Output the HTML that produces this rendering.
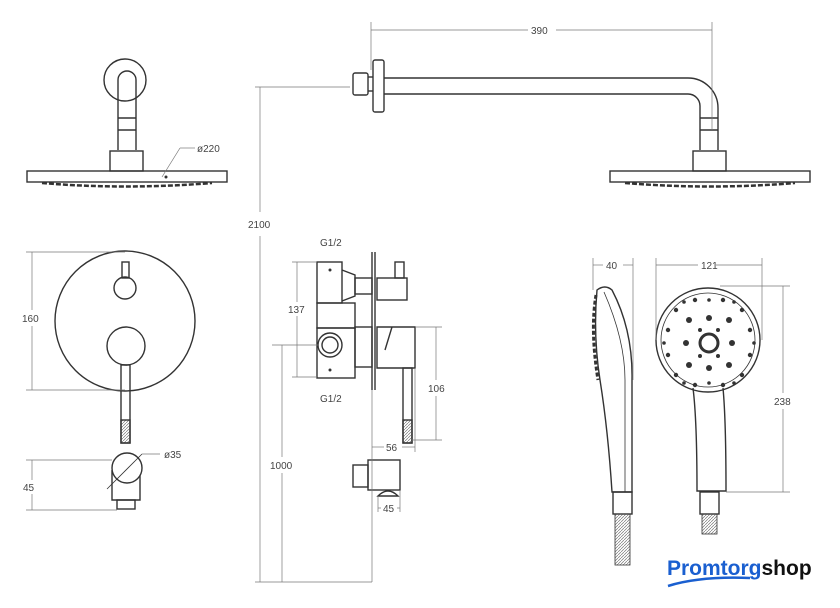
<!DOCTYPE html>
<html><head><style>
html,body{margin:0;padding:0;background:#fff;}
svg{display:block;}
text{font-family:"Liberation Sans",sans-serif;font-size:10px;fill:#444;}
</style></head><body>
<svg width="840" height="608" viewBox="0 0 840 608" xmlns="http://www.w3.org/2000/svg">
<defs>
<pattern id="h" width="3" height="3" patternUnits="userSpaceOnUse"><path d="M0 3L3 0" stroke="#777" stroke-width="0.7"/></pattern>
</defs>
<g fill="none" stroke="#333" stroke-width="1.4">
<circle cx="125" cy="80" r="21"/>
<path d="M118 150 V80 a9 9 0 0 1 18 0 V150"/>
<line x1="118" y1="118" x2="136" y2="118"/><line x1="118" y1="130" x2="136" y2="130"/>
<rect x="110" y="151" width="33" height="20"/>
<rect x="27" y="171" width="200" height="11"/>
<path d="M42 183 Q125 190 212 183" stroke-dasharray="5 2" stroke-width="2.5"/>
<rect x="373" y="60" width="11" height="52" rx="2"/>
<rect x="353" y="73" width="15" height="22" rx="2"/>
<line x1="368" y1="77" x2="373" y2="77"/><line x1="368" y1="91" x2="373" y2="91"/>
<path d="M384 78 H688 A30 30 0 0 1 718 108 V150"/>
<path d="M384 94 H688 A12 12 0 0 1 700 106 V150"/>
<line x1="700" y1="118" x2="718" y2="118"/><line x1="700" y1="130" x2="718" y2="130"/>
<rect x="693" y="151" width="33" height="20"/>
<rect x="610" y="171" width="200" height="11"/>
<path d="M625 183 Q710 190 795 183" stroke-dasharray="5 2" stroke-width="2.5"/>
<circle cx="125" cy="321" r="70"/>
<rect x="122" y="262" width="7" height="16"/>
<circle cx="125" cy="288" r="11"/>
<circle cx="126" cy="346" r="19"/>
<rect x="121" y="365" width="9" height="78"/>
<rect x="121" y="420" width="9" height="23" fill="url(#h)"/>
<path d="M112 470 V500 H140 V470"/>
<circle cx="127" cy="468" r="15" fill="#fff"/>
<rect x="117" y="500" width="18" height="9"/>
<line x1="107" y1="489" x2="142" y2="454" stroke-width="0.8"/>
<rect x="317" y="262" width="25" height="41"/>
<path d="M342 270 L355 275 V296 L342 301"/>
<rect x="355" y="278" width="17" height="16"/>
<line x1="372" y1="252" x2="372" y2="390"/><line x1="375" y1="252" x2="375" y2="390"/>
<rect x="377" y="278" width="30" height="22"/>
<rect x="395" y="262" width="9" height="16"/>
<rect x="317" y="303" width="38" height="25"/>
<rect x="317" y="328" width="38" height="50"/>
<circle cx="330" cy="345" r="12"/><circle cx="330" cy="345" r="8"/>
<rect x="355" y="327" width="17" height="40"/>
<path d="M377 327 H415 V368 H377 Z M392 327 L385 350"/>
<rect x="403" y="368" width="9" height="75"/>
<rect x="403" y="420" width="9" height="23" fill="url(#h)"/>
<rect x="353" y="465" width="15" height="22"/>
<rect x="368" y="460" width="32" height="30"/>
<path d="M378 496 Q388 486 398 496 Z"/>
<path d="M597 290 Q605 284 612 290 Q633 330 632 380 V492 H612 Q608 430 600 380 Q593 335 597 290 Z"/>
<path d="M604 292 Q625 340 625 380 V492" stroke-width="0.8"/>
<path d="M596 295 Q590 330 598 380" stroke-width="3" stroke-dasharray="4 2"/>
<rect x="613" y="492" width="19" height="22"/>
<rect x="615" y="514" width="15" height="51" fill="url(#h)" stroke-width="0.8"/>
<circle cx="708" cy="340" r="52"/>
<circle cx="708" cy="340" r="47" stroke-width="0.8"/>
<path d="M693 388 Q697 420 697 491 H726 Q726 420 723 388"/>
<rect x="700" y="492" width="19" height="22"/>
<rect x="702" y="514" width="15" height="20" fill="url(#h)" stroke-width="0.8"/>
<circle cx="709" cy="343" r="9" stroke-width="3"/>
</g>
<g fill="#333">
<circle cx="689" cy="320" r="3"/><circle cx="729" cy="320" r="3"/><circle cx="686" cy="343" r="3"/><circle cx="732" cy="343" r="3"/><circle cx="689" cy="365" r="3"/><circle cx="729" cy="365" r="3"/><circle cx="709" cy="318" r="3"/><circle cx="709" cy="368" r="3"/>
<circle cx="676" cy="310" r="2.2"/><circle cx="742" cy="310" r="2.2"/><circle cx="668" cy="330" r="2.2"/><circle cx="750" cy="330" r="2.2"/><circle cx="668" cy="355" r="2.2"/><circle cx="750" cy="355" r="2.2"/><circle cx="676" cy="375" r="2.2"/><circle cx="742" cy="375" r="2.2"/><circle cx="695" cy="300" r="2.2"/><circle cx="723" cy="300" r="2.2"/><circle cx="695" cy="385" r="2.2"/><circle cx="723" cy="385" r="2.2"/>
<circle cx="709" cy="300" r="1.8"/><circle cx="709" cy="383" r="1.8"/><circle cx="684" cy="302" r="1.8"/><circle cx="734" cy="302" r="1.8"/><circle cx="664" cy="343" r="1.8"/><circle cx="754" cy="343" r="1.8"/><circle cx="684" cy="383" r="1.8"/><circle cx="734" cy="383" r="1.8"/><circle cx="700" cy="330" r="2"/><circle cx="718" cy="330" r="2"/><circle cx="700" cy="356" r="2"/><circle cx="718" cy="356" r="2"/>
<circle cx="166" cy="177" r="1.5"/><circle cx="330" cy="270" r="1.5"/><circle cx="330" cy="370" r="1.5"/>
</g>
<g stroke="#777" stroke-width="0.7" fill="none">
<line x1="371" y1="22" x2="371" y2="70"/><line x1="712" y1="22" x2="712" y2="130"/>
<line x1="371" y1="30" x2="528" y2="30"/><line x1="556" y1="30" x2="712" y2="30"/>
<line x1="255" y1="87" x2="350" y2="87"/><line x1="260" y1="87" x2="260" y2="212"/><line x1="260" y1="236" x2="260" y2="582"/>
<line x1="255" y1="582" x2="372" y2="582"/><line x1="372" y1="390" x2="372" y2="582"/>
<line x1="162" y1="177" x2="180" y2="148"/><line x1="180" y1="148" x2="195" y2="148"/>
<line x1="26" y1="252" x2="125" y2="252"/><line x1="26" y1="390" x2="125" y2="390"/>
<line x1="32" y1="252" x2="32" y2="310"/><line x1="32" y1="326" x2="32" y2="390"/>
<line x1="26" y1="460" x2="112" y2="460"/><line x1="26" y1="510" x2="117" y2="510"/>
<line x1="32" y1="460" x2="32" y2="480"/><line x1="32" y1="494" x2="32" y2="510"/>
<line x1="142" y1="454" x2="160" y2="454"/>
<line x1="292" y1="262" x2="317" y2="262"/><line x1="292" y1="377" x2="317" y2="377"/>
<line x1="297" y1="262" x2="297" y2="302"/><line x1="297" y1="316" x2="297" y2="377"/>
<line x1="272" y1="345" x2="318" y2="345"/><line x1="282" y1="345" x2="282" y2="457"/><line x1="282" y1="473" x2="282" y2="582"/>
<line x1="415" y1="327" x2="442" y2="327"/><line x1="412" y1="440" x2="442" y2="440"/>
<line x1="436" y1="327" x2="436" y2="380"/><line x1="436" y1="396" x2="436" y2="440"/>
<line x1="415" y1="368" x2="415" y2="452"/><line x1="372" y1="447" x2="384" y2="447"/><line x1="402" y1="447" x2="415" y2="447"/>
<line x1="378" y1="496" x2="378" y2="512"/><line x1="400" y1="490" x2="400" y2="512"/><line x1="378" y1="508" x2="381" y2="508"/><line x1="397" y1="508" x2="400" y2="508"/>
<line x1="593" y1="258" x2="593" y2="290"/><line x1="633" y1="258" x2="633" y2="380"/><line x1="593" y1="265" x2="603" y2="265"/><line x1="623" y1="265" x2="633" y2="265"/>
<line x1="656" y1="258" x2="656" y2="340"/><line x1="762" y1="258" x2="762" y2="340"/><line x1="656" y1="265" x2="698" y2="265"/><line x1="716" y1="265" x2="762" y2="265"/>
<line x1="720" y1="286" x2="790" y2="286"/><line x1="726" y1="492" x2="790" y2="492"/>
<line x1="783" y1="286" x2="783" y2="393"/><line x1="783" y1="409" x2="783" y2="492"/>
</g>
<text x="531" y="34">390</text>
<text x="248" y="228">2100</text>
<text x="197" y="152" font-size="9">ø220</text>
<text x="22" y="322">160</text>
<text x="23" y="491">45</text>
<text x="164" y="458" font-size="9">ø35</text>
<text x="320" y="246">G1/2</text>
<text x="320" y="402">G1/2</text>
<text x="288" y="313">137</text>
<text x="428" y="392">106</text>
<text x="270" y="469">1000</text>
<text x="386" y="451">56</text>
<text x="383" y="512">45</text>
<text x="606" y="269">40</text>
<text x="701" y="269">121</text>
<text x="774" y="405">238</text>
<text x="667" y="575" style="font-size:21px;font-weight:bold;fill:#1a5fd0;">Promtorg<tspan style="fill:#111">shop</tspan></text>
<path d="M668 586 Q700 576 750 578" stroke="#1a5fd0" stroke-width="2.5" fill="none"/>
</svg>
</body></html>
